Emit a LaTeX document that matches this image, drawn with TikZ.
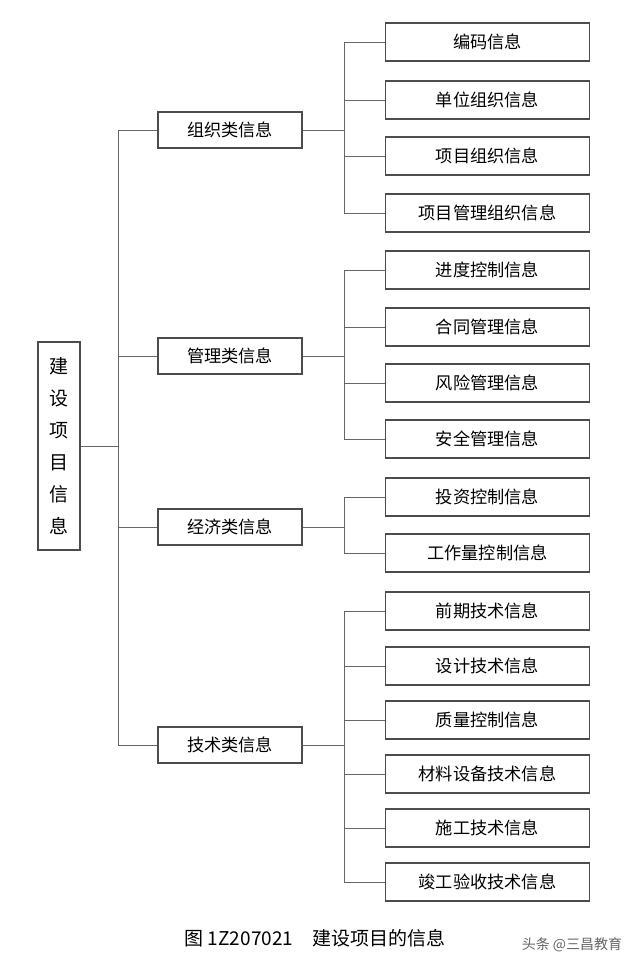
\documentclass[tikz,border=0pt]{standalone}
\usepackage{fontspec}
\newfontfamily\cjk{Noto Sans CJK SC}
\begin{document}
\begin{tikzpicture}[x=0.5pt,y=-0.5pt,
  box/.style={draw=black!70,line width=0.6pt,fill=white,inner sep=0pt,font=\cjk\fontsize{8.6pt}{10pt}\selectfont},
  link/.style={draw=black!60,line width=0.5pt}]
\useasboundingbox[fill=white] (0,0) rectangle (640,970);
\node[box,minimum width=21pt,minimum height=104pt,align=center,font=\cjk\fontsize{9.5pt}{16pt}\selectfont] (root) at (59,446) {建\\设\\项\\目\\信\\息};
\coordinate (rv) at (118,446);
\foreach \n/\t/\y in {g1/组织类信息/130,g2/管理类信息/356,g3/经济类信息/527,g4/技术类信息/745}{
  \node[box,minimum width=72pt,minimum height=18pt] (\n) at (230,\y) {\t};
  \draw[link] (\n.west -| rv) -- (\n.west);
}
\draw[link] (g1.west -| rv) -- (g4.west -| rv);
\draw[link] (root.east) -- (rv);
\foreach \g/\items in {g1/{编码信息/42,单位组织信息/100,项目组织信息/156,项目管理组织信息/213},
  g2/{进度控制信息/270,合同管理信息/327,风险管理信息/383,安全管理信息/439},
  g3/{投资控制信息/497,工作量控制信息/553},
  g4/{前期技术信息/611,设计技术信息/666,质量控制信息/720,材料设备技术信息/774,施工技术信息/828,竣工验收技术信息/882}}{
  \coordinate (\g v) at (344,0);
  \draw[link] (\g.east) -- (\g.east -| \g v);
  \foreach \t/\y [count=\i] in \items {
    \node[box,minimum width=102pt,minimum height=19pt] (\g i\i) at (487.5,\y) {\t};
    \draw[link] (\g i\i.west -| \g v) -- (\g i\i.west);
    \ifnum\i=1 \coordinate (\g top) at (\g i\i.west -| \g v); \fi
    \coordinate (\g bot) at (\g i\i.west -| \g v);
  }
  \draw[link] (\g top) -- (\g bot);
}
\node[font=\cjk\fontsize{9.5pt}{11pt}\selectfont] (cap) at (315,938) {图 1Z207021\quad 建设项目的信息};
\node[font=\cjk\fontsize{7pt}{8pt}\selectfont,text=black!60] (wm) at (572,945) {头条 @三昌教育};
\end{tikzpicture}
\end{document}
